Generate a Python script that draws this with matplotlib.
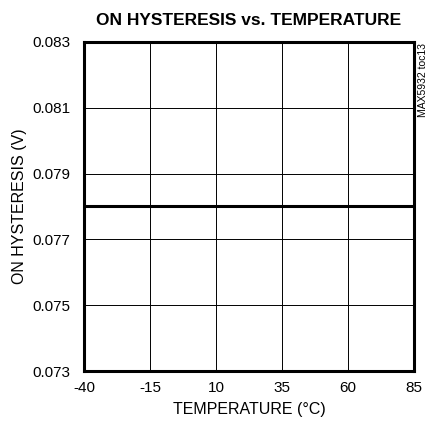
import matplotlib
matplotlib.use('Agg')
import matplotlib.pyplot as plt
from matplotlib import font_manager

names = {f.name for f in font_manager.fontManager.ttflist}
fam = 'Liberation Sans Narrow' if 'Liberation Sans Narrow' in names else 'Liberation Sans'
plt.rcParams['font.family'] = [fam, 'DejaVu Sans']
plt.rcParams['axes.unicode_minus'] = False

# data
temperature = [-40, -15, 10, 35, 60, 85]
hysteresis = [0.078, 0.078, 0.078, 0.078, 0.078, 0.078]
xticks = [-40, -15, 10, 35, 60, 85]
yticks = [0.073, 0.075, 0.077, 0.079, 0.081, 0.083]

fig = plt.figure(figsize=(4.29, 4.32), dpi=100)
ax = fig.add_axes([0.196, 0.141, 0.769, 0.762])
ax.plot(temperature, hysteresis, color='black', lw=2.2)
ax.set_xlim(-40, 85)
ax.set_ylim(0.073, 0.083)
ax.set_xticks(xticks)
ax.set_yticks(yticks)
ax.set_yticklabels(['%.3f' % v for v in yticks])
ax.grid(True, color='black', lw=0.7)
ax.tick_params(length=0, labelsize=11)
ax.tick_params(axis='y', pad=10)
ax.tick_params(axis='x', pad=7)
for s in ax.spines.values():
    s.set_linewidth(2.2)
ax.set_xlabel('TEMPERATURE (°C)', fontsize=11.5, labelpad=5)
ax.set_ylabel('ON HYSTERESIS (V)', fontsize=11.5, labelpad=4)
ax.set_title('ON HYSTERESIS vs. TEMPERATURE', fontsize=12.5, fontweight='bold', pad=12)
fig.text(0.985, 0.90, 'MAX5932 toc13', rotation=90, ha='center', va='top', fontsize=7.5)
fig.savefig('out.png', dpi=100)
